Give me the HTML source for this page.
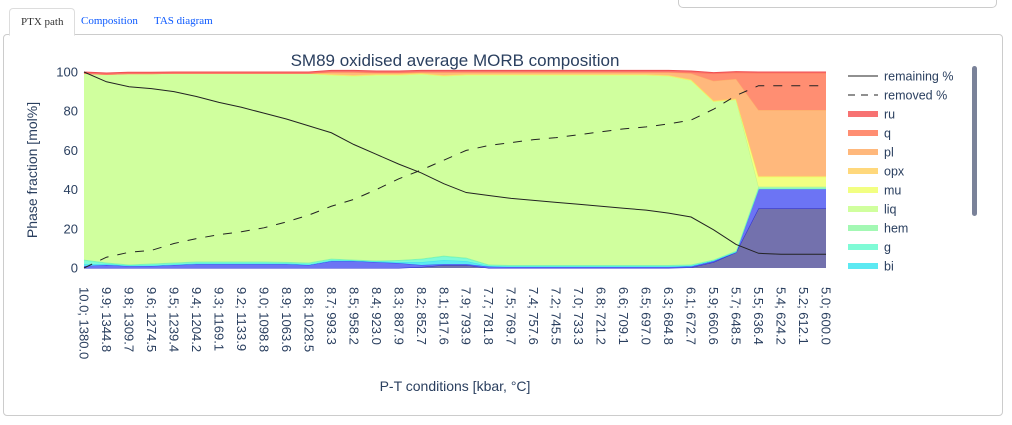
<!DOCTYPE html>
<html><head><meta charset="utf-8"><style>
body{margin:0;width:1012px;height:425px;overflow:hidden;background:#fff;font-family:"Liberation Sans",sans-serif;}
.tab{position:absolute;top:8px;height:26px;line-height:26px;font-family:"Liberation Serif",serif;font-size:11px;padding:0 11px;white-space:nowrap;}
</style></head><body>
<div style="position:absolute;left:678px;top:-6px;width:317px;height:12px;border:1px solid #ccc;border-radius:5px;"></div>
<div class="tab" style="left:9px;border:1px solid #ddd;border-bottom:1px solid #fff;border-radius:4px 4px 0 0;background:#fff;z-index:2;color:#333;">PTX path</div>
<div class="tab" style="left:70px;color:#0a58ff;">Composition</div>
<div class="tab" style="left:143px;color:#0a58ff;">TAS diagram</div>
<div style="position:absolute;left:3px;top:34px;width:998px;height:380px;border:1px solid #ccc;border-radius:4px;"></div>
<svg id="chart" width="1012" height="425" style="position:absolute;left:0;top:0" xmlns="http://www.w3.org/2000/svg"></svg>
<script>
const categories=["10.0; 1380.0","9.9; 1344.8","9.8; 1309.7","9.6; 1274.5","9.5; 1239.4","9.4; 1204.2","9.3; 1169.1","9.2; 1133.9","9.0; 1098.8","8.9; 1063.6","8.8; 1028.5","8.7; 993.3","8.5; 958.2","8.4; 923.0","8.3; 887.9","8.2; 852.7","8.1; 817.6","7.9; 793.9","7.7; 781.8","7.5; 769.7","7.4; 757.6","7.2; 745.5","7.0; 733.3","6.8; 721.2","6.6; 709.1","6.5; 697.0","6.3; 684.8","6.1; 672.7","5.9; 660.6","5.7; 648.5","5.5; 636.4","5.4; 624.2","5.2; 612.1","5.0; 600.0"];
// layer thicknesses (mol%), bottom to top
const spn=[0,0,0,0,0,0,0,0,0,0,0,0,0,0,0,0.5,1.5,1.5,0,0,0,0,0,0,0,0,0,0.3,3,8,30.5,30.5,30.5,30.5];
const ilm=[1,1.5,1,1,1.5,2,2,2,2,2,1.5,3.5,3.5,3,2.5,1,0.5,0.5,0.7,0.5,0.5,0.5,0.5,0.5,0.5,0.5,0.5,0.5,0.5,0,10,10,10,10];
const bi=[1,0.5,0.2,0.3,0.3,0.3,0.3,0.3,0.3,0.3,0.3,0.3,0.3,0.3,0.5,1.5,2,1.5,0.3,0.3,0.3,0.3,0.3,0.3,0.3,0.3,0.3,0.3,0.3,0.3,0,0,0,0];
const g=[2,0.5,0.3,0.7,0.7,0.7,0.7,0.7,0.7,0.5,0.7,0.7,0.2,0.2,0.8,1.5,2,1.5,0.5,0.4,0.4,0.4,0.4,0.4,0.4,0.4,0.4,0.4,0.2,0.2,0,0,0,0];
const hem=[0.3,0.3,0.3,0.3,0.3,0.3,0.3,0.3,0.3,0.3,0.3,0.3,0.3,0.3,0.3,0.3,0.3,0.3,0.3,0.3,0.3,0.3,0.3,0.3,0.3,0.3,0.3,0.3,0.3,0.3,1,1,1,1];
const liq=[95,96,97.4,96.9,96.5,96,96,96,96,96.2,96.5,93.7,93.7,94.7,94.4,94.2,91.7,93.2,96.7,97,97,97,97,97,97,97,96.5,94,80.7,77.2,0,0,0,0];
const mu=[0,0,0,0,0,0,0,0,0,0,0,0,0,0,0,0,0,0,0,0,0,0,0,0,0,0,0,0,0,0,5,5,5,5];
const opx=[0,0,0,0,0,0,0,0,0,0,0,0.5,0.5,0.5,0.5,0.5,0.5,0.5,0.5,0.5,0.5,0.5,0.5,0.5,0.5,0.5,0.5,0.5,0.5,0.5,0.5,0.5,0.5,0.5];
const pl=[0,0,0,0,0,0,0,0,0,0,0,0.8,1.3,0.5,0.5,0.3,1.3,0.8,0.8,0.8,0.8,0.8,0.8,0.8,0.8,0.8,1.3,3,10,10,33.6,33.6,33.6,33.6];
const q=[0,0,0,0,0,0,0,0,0,0,0,0.3,0.3,0.3,0.3,0.3,0.3,0.3,0.3,0.3,0.3,0.3,0.3,0.3,0.3,0.3,0.3,0.5,3.7,3.2,18.9,18.9,18.9,18.9];
const ru=[0.7,0.7,0.7,0.7,0.7,0.7,0.7,0.7,0.7,0.7,0.7,0.7,0.7,0.7,0.7,0.7,0.7,0.7,0.7,0.7,0.7,0.7,0.7,0.7,0.7,0.7,0.7,0.7,0.5,0.5,0.5,0.5,0.5,0.5];
const remaining=[100,95,92.5,91.5,90,87.5,84.5,82,79,76,72.5,69,63,58,53,48.5,43,38.5,37,35.5,34.5,33.5,32.5,31.5,30.5,29.5,28,26,19.5,12,7.5,7,7,7];
const removed=[0,5.5,8,9,12.5,15,17,18.5,20.5,23.5,27,31.5,35,40,45.5,50,55,60,62.5,64,65.5,66.5,68,69.5,71,72,73.5,75.5,81,88,93,93,93,93];
const yTicks=[0,20,40,60,80,100];
const layers=[["spn",spn,"#7371ad","#2b2bd0"],["ilm",ilm,"#6c74f4","#3a4cf0"],["bi",bi,"#5ce9f2","#3fe0ee"],["g",g,"#7ffbd6","#5ff5c8"],["hem",hem,"#a3f8b4","#8ff5a6"],["liq",liq,"#d0ff9e","#bff58a"],["mu",mu,"#f2ff82","#eaff66"],["opx",opx,"#ffd87c","#ffd060"],["pl",pl,"#ffb87c","#ffaa66"],["q",q,"#ff8e72","#ff7a5a"],["ru",ru,"#f77272","#f05050"]];
const NS="http://www.w3.org/2000/svg";
const svg=document.getElementById("chart");
const X0=84,X1=826,Y0=268,Y1=72;
function xs(i){return X0+(X1-X0)*i/(categories.length-1);}
function ys(v){return Y0-(Y0-Y1)*v/100;}
function mk(tag,attrs,parent){const e=document.createElementNS(NS,tag);for(const k in attrs)e.setAttribute(k,attrs[k]);(parent||svg).appendChild(e);return e;}
let base=categories.map(()=>0);
layers.forEach(L=>{
 const top=base.map((b,i)=>b+L[1][i]);
 let d="M"+top.map((v,i)=>xs(i)+","+ys(v)).join("L");
 for(let i=categories.length-1;i>=0;i--)d+="L"+xs(i)+","+ys(base[i]);
 const p=mk("path",{d:d+"Z",fill:L[2],stroke:"none"});
 
 
 const ln=mk("path",{d:"M"+top.map((v,i)=>xs(i)+","+ys(v)).join("L"),fill:"none",stroke:L[3],"stroke-width":1});
 
 
 base=top;
});
const r=mk("path",{d:"M"+remaining.map((v,i)=>xs(i)+","+ys(v)).join("L"),fill:"none",stroke:"#222","stroke-width":1});


const rm=mk("path",{d:"M"+removed.map((v,i)=>xs(i)+","+ys(v)).join("L"),fill:"none",stroke:"#222","stroke-width":1,"stroke-dasharray":"9,9"});


yTicks.forEach(t=>{
 const e=mk("text",{x:X0-6,y:ys(t)+4.5,"text-anchor":"end","font-size":13,fill:"#2a3f5f"});
 e.textContent=t;
 
 
});
categories.forEach((c,i)=>{
 const e=mk("text",{x:0,y:0,transform:`translate(${xs(i)-4.5},287) rotate(90)`,"font-size":13,fill:"#2a3f5f"});
 e.textContent=c;
 
 
});
const ti=mk("text",{x:455,y:66,"text-anchor":"middle","font-size":17,fill:"#2a3f5f"});
ti.textContent="SM89 oxidised average MORB composition";


const yt=mk("text",{x:0,y:0,transform:"translate(37,170) rotate(-90)","text-anchor":"middle","font-size":14,fill:"#2a3f5f"});
yt.textContent="Phase fraction [mol%]";


const xt=mk("text",{x:455,y:391,"text-anchor":"middle","font-size":14,fill:"#2a3f5f"});
xt.textContent="P-T conditions [kbar, °C]";


const legendItems=[["remaining %","solid","#222"],["removed %","dash","#222"],["ru","fill","#f77272"],["q","fill","#ff8e72"],["pl","fill","#ffb87c"],["opx","fill","#ffd87c"],["mu","fill","#f2ff82"],["liq","fill","#d0ff9e"],["hem","fill","#a3f8b4"],["g","fill","#7ffbd6"],["bi","fill","#5ce9f2"]];
legendItems.forEach((it,k)=>{
 const y=76+19*k;
 const gEl=mk("g",{});
 
 
 if(it[1]=="fill")mk("rect",{x:848,y:y-3,width:30,height:6,fill:it[2]},gEl);
 else mk("line",{x1:848,y1:y,x2:878,y2:y,stroke:it[2],"stroke-width":1,"stroke-dasharray":it[1]=="dash"?"7,6":"none"},gEl);
 const t=mk("text",{x:884,y:y+4.5,"font-size":12.5,fill:"#2a3f5f"},gEl);
 t.textContent=it[0];
});
const sb=mk("rect",{x:972,y:66,width:5,height:150,rx:2.5,fill:"#7a8299"});


</script>
</body></html>
